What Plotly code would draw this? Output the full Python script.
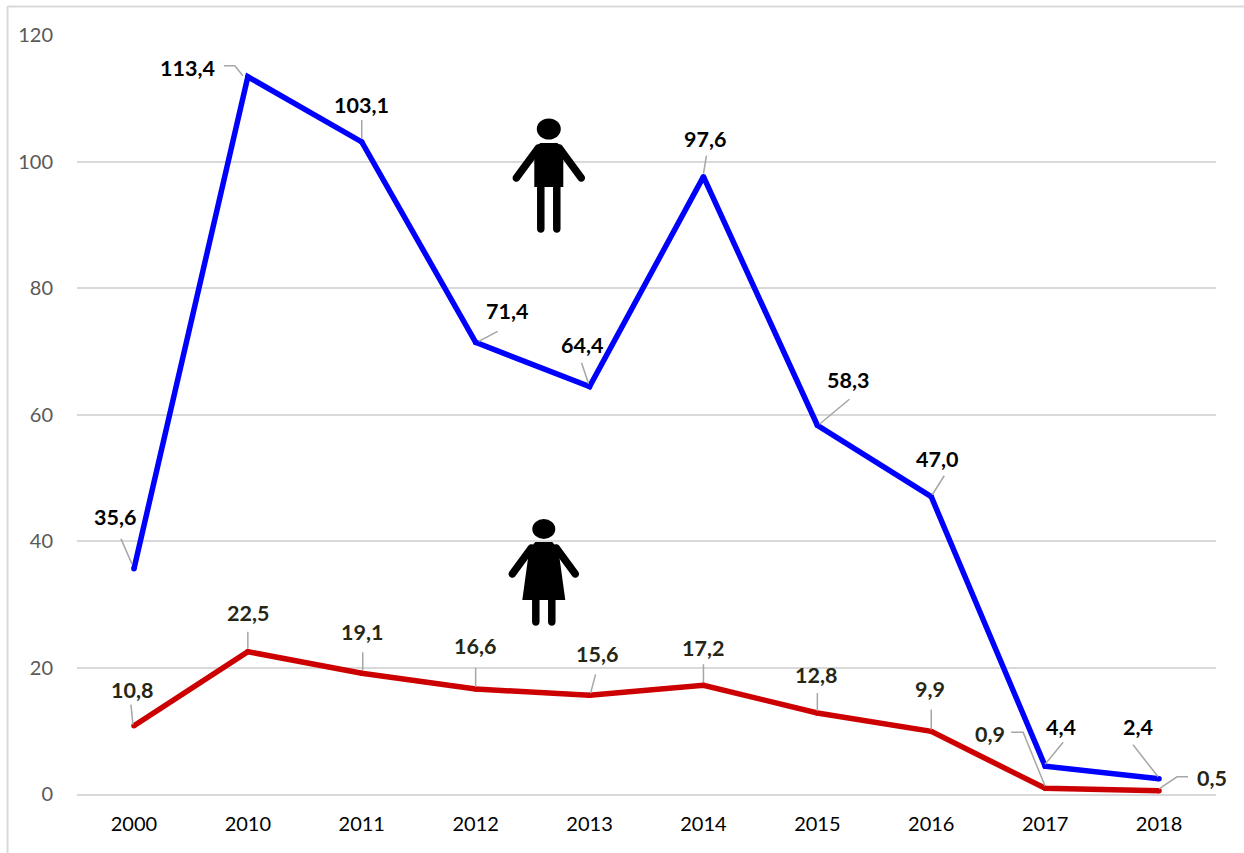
import math
import plotly.graph_objects as go

W, H = 1244, 853
L, R, T, B = 76.5, 1216, 35, 794

years = ["2000", "2010", "2011", "2012", "2013", "2014", "2015", "2016", "2017", "2018"]
men = [35.6, 113.4, 103.1, 71.4, 64.4, 97.6, 58.3, 47.0, 4.4, 2.4]
women = [10.8, 22.5, 19.1, 16.6, 15.6, 17.2, 12.8, 9.9, 0.9, 0.5]
y_ticks = [0, 20, 40, 60, 80, 100, 120]
slots = list(range(len(years)))

# label offset (px) from its point, and leader offsets
men_lab = [(-19, -52), (-60, -9), (0, -37), (31, -31), (-8, -42), (2, -38), (31, -45), (6, -38), (16, -39), (-21, -52)]
wom_lab = [(-2, -36), (0, -39), (0, -41), (-1, -43), (7, -41), (0, -37), (-1, -38), (-1, -42), (-55, -54), (53, -13)]
men_lead = [[(-2, -5), (-13, -30)], [(-5, -1), (-13, -11), (-24, -11)], [(0, -3), (0, -22)], [(3, -1), (22, -11)],
            [(-1, -3), (-8, -24)], [(0, -3), (3, -21)], [(2, -1), (32, -26)], [(1, -2), (13, -21)], [(0, -2), (18, -24)], [(-1, -2), (-26, -34)]]
wom_lead = [[(-1, -1), (-3, -21)], [(0, -3), (0, -20)], [(1, -3), (1, -21)], [(0, -2), (0, -21)],
            [(1, -2), (6, -21)], [(0, -3), (0, -21)], [(0, -2), (0, -20)], [(0, -2), (0, -22)],
            [(0, -2), (-22, -56), (-34, -56)], [(0, -2), (18, -14), (29, -14)]]

BLUE, RED = "#0000FF", "#CC0000"
GRID = "#D9D9D9"

fig = go.Figure()
for name, vals, col in (("Hommes", men, BLUE), ("Femmes", women, RED)):
    fig.add_trace(go.Scatter(x=slots, y=vals, mode="lines+markers", name=name,
                             line=dict(color=col, width=5.5, shape="linear"),
                             marker=dict(color=col, size=5.5), hoverinfo="skip"))

def annotate(vals, labs, color):
    for s, v, (dx, dy) in zip(slots, vals, labs):
        fig.add_annotation(x=s, y=v, xref="x", yref="y", xshift=dx, yshift=-dy, showarrow=False,
                           text="<b>" + f"{v:.1f}".replace(".", ",") + "</b>",
                           font=dict(family="Lato", size=21.5, color=color))

annotate(men, men_lab, "#000000")
annotate(women, wom_lab, "#262616")

def px(x): return (x - L) / (R - L)
def py(y): return (B - y) / (B - T)

def path(points):
    return "M " + " L ".join(f"{px(x):.5f},{py(y):.5f}" for x, y in points)

shapes = []
# frame round the chart
shapes.append(dict(type="line", xref="paper", yref="paper", x0=px(7), x1=px(7), y0=py(H), y1=py(6), line=dict(color=GRID, width=2)))
shapes.append(dict(type="line", xref="paper", yref="paper", x0=px(7), x1=px(W), y0=py(6.5), y1=py(6.5), line=dict(color=GRID, width=2)))

# leader lines, anchored to the data points
for vals, leads in ((men, men_lead), (women, wom_lead)):
    for s, v, lead in zip(slots, vals, leads):
        d = "M " + " L ".join(f"{a},{-b}" for a, b in lead)
        shapes.append(dict(type="path", xsizemode="pixel", ysizemode="pixel", xanchor=s, yanchor=v,
                           xref="x", yref="y", path=d, line=dict(color="#A6A6A6", width=1.5), layer="above"))

def capsule(x0, y0, x1, y1, w):
    a = math.atan2(y1 - y0, x1 - x0)
    r = w / 2
    pts = []
    for k in range(9):
        t = a + math.pi / 2 + math.pi * k / 8
        pts.append((x0 + r * math.cos(t), y0 + r * math.sin(t)))
    for k in range(9):
        t = a - math.pi / 2 + math.pi * k / 8
        pts.append((x1 + r * math.cos(t), y1 + r * math.sin(t)))
    return pts
def thick(x0, y0, x1, y1, w):
    return dict(type="path", xref="paper", yref="paper", path=path(capsule(x0, y0, x1, y1, w)) + " Z",
                fillcolor="black", line=dict(color="black", width=w * 0.25), layer="above")
def blob(pts):
    return dict(type="path", xref="paper", yref="paper", path=path(pts) + " Z", fillcolor="black", line=dict(width=0), layer="above")
def head(cx, cy, rx, ry):
    return dict(type="circle", xref="paper", yref="paper", x0=px(cx-rx), x1=px(cx+rx), y0=py(cy+ry), y1=py(cy-ry),
                fillcolor="black", line=dict(width=0), layer="above")

shapes += [
    head(548.5, 129, 12, 10.5),
    blob([(540, 143), (557, 143), (563, 148), (563, 187), (534, 187), (534, 148)]),
    thick(538, 148, 516, 178, 6), thick(559, 148, 581, 178, 6),
    thick(540.5, 185, 540.5, 229, 6), thick(556.5, 185, 556.5, 229, 6),
    head(543.5, 529, 11.5, 10),
    blob([(535, 542), (552, 542), (558, 549), (565, 600), (522, 600), (529, 549)]),
    thick(531, 548, 512, 574, 6), thick(556, 548, 575, 574, 6),
    thick(535.5, 598, 535.5, 622, 6), thick(551.5, 598, 551.5, 622, 6),
]

fig.update_layout(
    width=W, height=H, paper_bgcolor="white", plot_bgcolor="white", showlegend=False,
    margin=dict(l=L, r=W - R, t=T, b=H - B, autoexpand=False),
    shapes=shapes,
    xaxis=dict(range=[-0.5, 9.5], tickvals=slots, ticktext=years, showgrid=False, showline=True, linecolor=GRID, linewidth=2, zeroline=False,
               ticks="", tickfont=dict(family="Lato", size=20, color="#000000"), ticklabelstandoff=11),
    yaxis=dict(range=[0, 120], tickvals=y_ticks, showgrid=True, gridcolor=GRID, gridwidth=1.5, zeroline=False, showline=False,
               ticks="", tickfont=dict(family="Lato", size=20, color="#595959"), ticklabelstandoff=23),
)
fig.write_html("out.html", post_script="document.body.style.margin='0';", config=dict(displayModeBar=False))
